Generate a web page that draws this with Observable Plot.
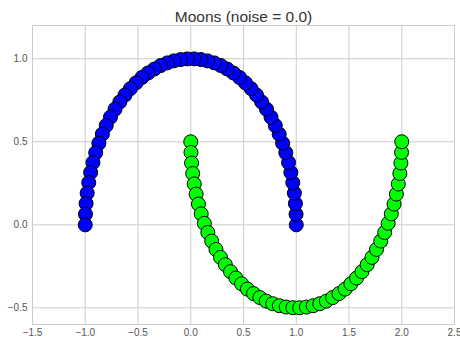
<!DOCTYPE html>
<html>
<head>
<meta charset="utf-8">
<script src="https://cdn.jsdelivr.net/npm/d3@7"></script>
<script src="https://cdn.jsdelivr.net/npm/@observablehq/plot@0.6"></script>
<style>
html,body{margin:0;padding:0;background:#fff;}
#chart{width:460px;height:342px;}
</style>
</head>
<body>
<div id="chart"></div>
<script>
const title = "Moons (noise = 0.0)";
const xTicks = [-1.5, -1.0, -0.5, 0.0, 0.5, 1.0, 1.5, 2.0, 2.5];
const yTicks = [-0.5, 0.0, 0.5, 1.0];

// Outer moon (class 0, blue)
const blueX = [1, 0.998, 0.992, 0.982, 0.967, 0.949, 0.927, 0.901, 0.871, 0.838, 0.801, 0.761, 0.718, 0.672, 0.623, 0.572, 0.518, 0.463, 0.405, 0.345, 0.285, 0.223, 0.160, 0.096, 0.032, -0.032, -0.096, -0.160, -0.223, -0.285, -0.345, -0.405, -0.463, -0.518, -0.572, -0.623, -0.672, -0.718, -0.761, -0.801, -0.838, -0.871, -0.901, -0.927, -0.949, -0.967, -0.982, -0.992, -0.998, -1];
const blueY = [0, 0.064, 0.128, 0.191, 0.254, 0.315, 0.375, 0.434, 0.491, 0.546, 0.598, 0.648, 0.696, 0.740, 0.782, 0.820, 0.855, 0.887, 0.914, 0.938, 0.959, 0.975, 0.987, 0.995, 0.999, 0.999, 0.995, 0.987, 0.975, 0.959, 0.938, 0.914, 0.887, 0.855, 0.820, 0.782, 0.740, 0.696, 0.648, 0.598, 0.546, 0.491, 0.434, 0.375, 0.315, 0.254, 0.191, 0.128, 0.064, 0];

// Inner moon (class 1, green)
const greenX = [0, 0.002, 0.008, 0.018, 0.033, 0.051, 0.073, 0.099, 0.129, 0.162, 0.199, 0.239, 0.282, 0.328, 0.377, 0.428, 0.482, 0.537, 0.595, 0.655, 0.715, 0.777, 0.840, 0.904, 0.968, 1.032, 1.096, 1.160, 1.223, 1.285, 1.345, 1.405, 1.463, 1.518, 1.572, 1.623, 1.672, 1.718, 1.761, 1.801, 1.838, 1.871, 1.901, 1.927, 1.949, 1.967, 1.982, 1.992, 1.998, 2];
const greenY = [0.5, 0.436, 0.372, 0.309, 0.246, 0.185, 0.125, 0.066, 0.009, -0.046, -0.098, -0.148, -0.196, -0.240, -0.282, -0.320, -0.355, -0.387, -0.414, -0.438, -0.459, -0.475, -0.487, -0.495, -0.499, -0.499, -0.495, -0.487, -0.475, -0.459, -0.438, -0.414, -0.387, -0.355, -0.320, -0.282, -0.240, -0.196, -0.148, -0.098, -0.046, 0.009, 0.066, 0.125, 0.185, 0.246, 0.309, 0.372, 0.436, 0.5];

const points = [
  ...blueX.map((x, i) => ({x, y: blueY[i], c: "#0000ff"})),
  ...greenX.map((x, i) => ({x, y: greenY[i], c: "#00ff00"}))
];

const fmt = d3.format(".1f");
const plot = Plot.plot({
  width: 460,
  height: 342,
  marginLeft: 32,
  marginRight: 6,
  marginTop: 25,
  marginBottom: 18,
  style: {fontFamily: "'Liberation Sans', Arial, sans-serif", fontSize: "10px", color: "#555", background: "#fff"},
  x: {domain: [-1.5, 2.5], ticks: xTicks, tickFormat: fmt, tickSize: 0, tickPadding: 4, label: null},
  y: {domain: [-0.6, 1.2], ticks: yTicks, tickFormat: fmt, tickSize: 0, tickPadding: 5, label: null},
  marks: [
    Plot.gridX(xTicks, {stroke: "#cccccc", strokeOpacity: 1, strokeWidth: 1}),
    Plot.gridY(yTicks, {stroke: "#cccccc", strokeOpacity: 1, strokeWidth: 1}),
    Plot.frame({stroke: "#cccccc", strokeWidth: 1}),
    Plot.dot(points, {x: "x", y: "y", r: 7, fill: "c", stroke: "#000", strokeWidth: 1}),
    Plot.text([title], {frameAnchor: "top", dy: -4, fontSize: 15.5, fill: "#333", lineAnchor: "bottom"})
  ]
});
document.getElementById("chart").appendChild(plot);
</script>
</body>
</html>
